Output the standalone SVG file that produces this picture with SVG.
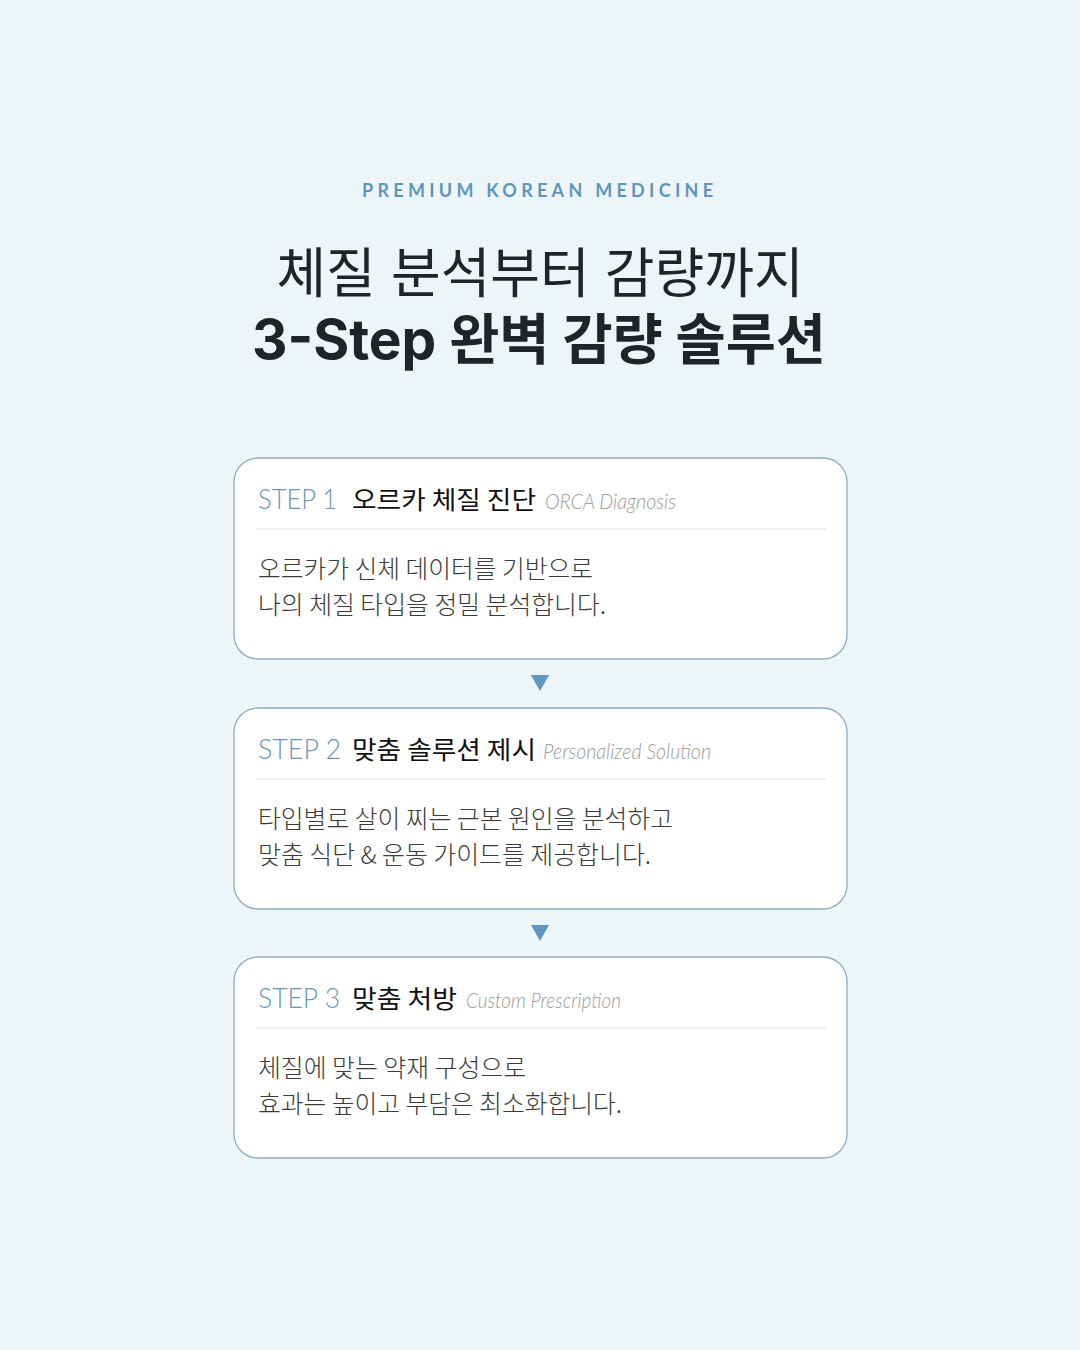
<svg xmlns="http://www.w3.org/2000/svg" width="1080" height="1350" viewBox="0 0 1080 1350">
<defs>
<style>
.bg{fill:#eef5f9}
.card{fill:#ffffff;stroke:#8eadc1;stroke-width:1.3}
.div{stroke:#e7eaec;stroke-width:1.6}
.arrow{fill:#5e96c0}
.eyebrow{font-family:Lato,"Liberation Sans",sans-serif;font-weight:700;font-size:18px;fill:#5e95bd;letter-spacing:5px}
.t1{font-family:Inter,"Noto Sans CJK KR",sans-serif;font-weight:400;font-size:54px;fill:#222326}
.t2{font-family:Inter,"Noto Sans CJK KR",sans-serif;font-weight:700;font-size:55px;fill:#222326}
.step{font-family:Lato,"Liberation Sans",sans-serif;font-weight:300;font-size:28px;fill:#6a97b8}
.kt{font-family:"Noto Sans CJK KR",sans-serif;font-weight:400;font-size:25px;fill:#111111}
.en{font-family:Lato,"Liberation Sans",sans-serif;font-style:italic;font-weight:300;font-size:21px;fill:#9b9b9b}
.body{font-family:"Noto Sans CJK KR",sans-serif;font-weight:300;font-size:24.5px;fill:#3a3a3a}
</style>
</defs>
<rect class="bg" x="0" y="0" width="1080" height="1350"/>

<g id="header">
<text class="eyebrow" x="362" y="197" textLength="356" lengthAdjust="spacing">PREMIUM KOREAN MEDICINE</text>
<text class="t1" x="540" y="293" text-anchor="middle">체질 분석부터 감량까지</text>
<text class="t2" x="539" y="359" text-anchor="middle">3-Step<tspan font-size="54.5"> 완벽 감량 솔루션</tspan></text>
</g>

<g id="connectors">
<polygon class="arrow" points="531,675 549,675 540,691"/>
<polygon class="arrow" points="531,925 549,925 540,941"/>
</g>

<g id="step1">
<rect class="card" x="234" y="458" width="613" height="201" rx="24" ry="24"/>
<text class="step" x="258" y="509" textLength="79" lengthAdjust="spacingAndGlyphs">STEP 1</text>
<text class="kt" x="352" y="509" textLength="184" lengthAdjust="spacingAndGlyphs">오르카 체질 진단</text>
<text class="en" x="545" y="509" textLength="131" lengthAdjust="spacingAndGlyphs">ORCA Diagnosis</text>
<line class="div" x1="256" y1="529" x2="826" y2="529"/>
<text class="body" x="258" y="578" textLength="335" lengthAdjust="spacingAndGlyphs">오르카가 신체 데이터를 기반으로</text>
<text class="body" x="258" y="614" textLength="348" lengthAdjust="spacingAndGlyphs">나의 체질 타입을 정밀 분석합니다.</text>
</g>

<g id="step2">
<rect class="card" x="234" y="708" width="613" height="201" rx="24" ry="24"/>
<text class="step" x="258" y="759" textLength="83" lengthAdjust="spacingAndGlyphs">STEP 2</text>
<text class="kt" x="352" y="759" textLength="184" lengthAdjust="spacingAndGlyphs">맞춤 솔루션 제시</text>
<text class="en" x="543" y="759" textLength="168" lengthAdjust="spacingAndGlyphs">Personalized Solution</text>
<line class="div" x1="256" y1="779" x2="826" y2="779"/>
<text class="body" x="258" y="828" textLength="415" lengthAdjust="spacingAndGlyphs">타입별로 살이 찌는 근본 원인을 분석하고</text>
<text class="body" x="258" y="864" textLength="393" lengthAdjust="spacingAndGlyphs">맞춤 식단 &amp; 운동 가이드를 제공합니다.</text>
</g>

<g id="step3">
<rect class="card" x="234" y="957" width="613" height="201" rx="24" ry="24"/>
<text class="step" x="258" y="1008" textLength="82" lengthAdjust="spacingAndGlyphs">STEP 3</text>
<text class="kt" x="352" y="1008" textLength="105" lengthAdjust="spacingAndGlyphs">맞춤 처방</text>
<text class="en" x="466" y="1008" textLength="155" lengthAdjust="spacingAndGlyphs">Custom Prescription</text>
<line class="div" x1="256" y1="1028" x2="826" y2="1028"/>
<text class="body" x="258" y="1077" textLength="268" lengthAdjust="spacingAndGlyphs">체질에 맞는 약재 구성으로</text>
<text class="body" x="258" y="1113" textLength="364" lengthAdjust="spacingAndGlyphs">효과는 높이고 부담은 최소화합니다.</text>
</g>
</svg>
